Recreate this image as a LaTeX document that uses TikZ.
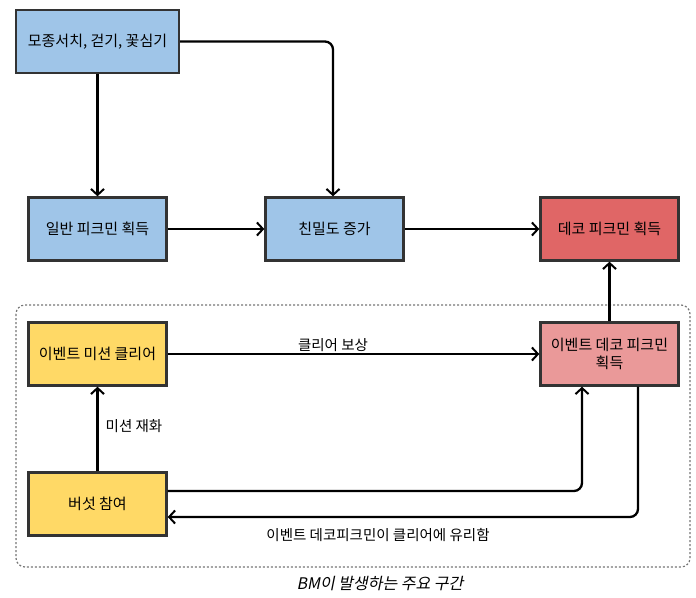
\documentclass[tikz,border=0pt]{standalone}
\usepackage{fontspec}
\setmainfont{Noto Sans CJK KR}
\newfontfamily\krslant[FakeSlant=0.2]{Noto Sans CJK KR}
\usetikzlibrary{arrows.meta}
\definecolor{cblue}{HTML}{9FC5E8}
\definecolor{cred}{HTML}{E06666}
\definecolor{cyellow}{HTML}{FFD966}
\definecolor{cpink}{HTML}{EA9999}
\definecolor{cborder}{HTML}{333333}
\definecolor{cdash}{HTML}{777777}
\tikzset{
  box/.style={draw=cborder, line width=2.4pt, minimum width=138pt, minimum height=63pt, inner sep=2pt, align=center, font=\fontsize{15}{18}\selectfont},
  wide/.style={minimum width=163pt},
  conn/.style={draw=black, line width=2.3pt, rounded corners=8pt, -{Straight Barb[length=6pt,width=13pt,line width=2pt]}},
  lbl/.style={font=\fontsize{14.5}{17}\selectfont, inner sep=1pt},
}
\begin{document}
\begin{tikzpicture}[x=1pt,y=-1pt]
\useasboundingbox (0,0) rectangle (696,597);
% dashed region
\draw[cdash, line width=1.2pt, dash pattern=on 2pt off 2pt, rounded corners=9pt] (16,305) rectangle (690,567);

\node[box, wide, fill=cblue] (src) at (97.5,41.5) {모종서치, 걷기, 꽃심기};
\node[box, fill=cblue] (norm) at (97.5,229) {일반 피크민 획득};
\node[box, fill=cblue] (aff) at (334.5,229) {친밀도 증가};
\node[box, fill=cred] (deco) at (609.5,229) {데코 피크민 획득};
\node[box, fill=cyellow] (mission) at (97.5,354) {이벤트 미션 클리어};
\node[box, fill=cpink] (evdeco) at (609.5,354) {이벤트 데코 피크민\\획득};
\node[box, fill=cyellow] (mush) at (97.5,504) {버섯 참여};

\draw[conn] (src.south) -- (norm.north);
\draw[conn] (src.east |- 0,41.5) -- (333,41.5) -- (333,0 |- aff.north);
\draw[conn] (norm.east) -- (aff.west);
\draw[conn] (aff.east) -- (deco.west);
\draw[conn] (evdeco.north) -- (deco.south);
\draw[conn] (mission.east) -- (evdeco.west);
\draw[conn] (mush.north) -- (mission.south);
\coordinate (c1) at (582,491);
\coordinate (c2) at (638,517);
\draw[conn] (mush.east |- c1) -- (c1) -- (c1 |- evdeco.south);
\draw[conn] (c2 |- evdeco.south) -- (c2) -- (mush.east |- c2);

\node[lbl] (l1) at (333,345) {클리어 보상};
\node[lbl] (l2) at (134,426) {미션 재화};
\node[lbl] (l3) at (378,535) {이벤트 데코피크민이 클리어에 유리함};
\node[lbl, font=\krslant\fontsize{16}{19}\selectfont] (l4) at (380,584) {BM이 발생하는 주요 구간};
\end{tikzpicture}
\end{document}
